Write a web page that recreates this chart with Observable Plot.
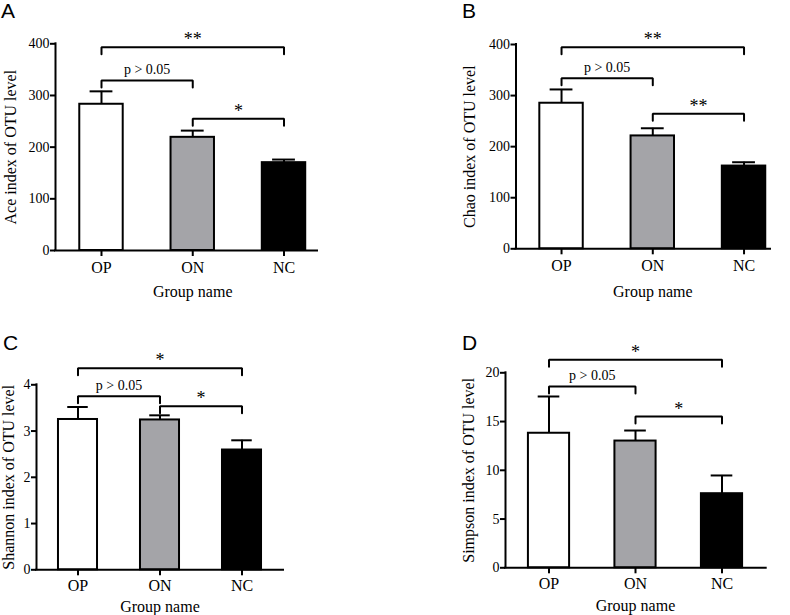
<!DOCTYPE html>
<html><head><meta charset="utf-8">
<script src="https://cdn.jsdelivr.net/npm/d3@7"></script>
<script src="https://cdn.jsdelivr.net/npm/@observablehq/plot@0.6"></script>
<style>
html,body{margin:0;padding:0;background:#fff;}
#root{position:relative;width:790px;height:615px;overflow:hidden;background:#fff;}
.panel{position:absolute;}
.panel text{font-family:"Liberation Serif","Times New Roman",serif;}
.letter{position:absolute;font-family:"Liberation Sans",Arial,sans-serif;font-size:21px;line-height:1;color:#000;}
</style></head><body><div id="root"></div>
<script>
// ---- data ----
const groups = ["OP", "ON", "NC"];
const groupFill = ["#ffffff", "#a4a4a8", "#000000"];
const panelLetters = ["A", "B", "C", "D"];
const yLabels = ["Ace index of OTU level", "Chao index of OTU level", "Shannon index of OTU level", "Simpson index of OTU level"];
const xLabel = "Group name";

const aceMean = [283, 219, 170];
const aceErr = [25, 13, 6];
const chaoMean = [285, 221, 162];
const chaoErr = [27, 15, 7.5];
const shannonMean = [3.25, 3.24, 2.59];
const shannonErr = [0.27, 0.10, 0.21];
const simpsonMean = [13.8, 13.0, 7.6];
const simpsonErr = [3.77, 1.08, 1.87];

const aceTicks = [0, 100, 200, 300, 400];
const chaoTicks = [0, 100, 200, 300, 400];
const shannonTicks = [0, 1, 2, 3, 4];
const simpsonTicks = [0, 5, 10, 15, 20];

const aceBrackets = [
  {from: 0, to: 2, y: 393.4, label: "**"},
  {from: 0, to: 1, y: 329, label: "p > 0.05"},
  {from: 1, to: 2, y: 255, label: "*"}
];
const chaoBrackets = [
  {from: 0, to: 2, y: 394.7, label: "**"},
  {from: 0, to: 1, y: 334, label: "p > 0.05"},
  {from: 1, to: 2, y: 264.3, label: "**"}
];
const shannonBrackets = [
  {from: 0, to: 2, y: 4.36, label: "*"},
  {from: 0, to: 1, y: 3.754, label: "p > 0.05"},
  {from: 1, to: 2, y: 3.537, label: "*"}
];
const simpsonBrackets = [
  {from: 0, to: 2, y: 21.33, label: "*"},
  {from: 0, to: 1, y: 18.6, label: "p > 0.05"},
  {from: 1, to: 2, y: 15.52, label: "*"}
];

// ---- layout / style ----
const barHalf = 0.238;   // half bar width, in category steps
const capHalf = 0.125;   // half error cap width, in category steps
const legPx = 7;         // bracket leg length in px
const serif = '"Liberation Serif","Times New Roman",serif';

const panels = [
  {mean: aceMean, err: aceErr, brackets: aceBrackets, yTicks: aceTicks, yDomain: [0, 400], yLabel: yLabels[0], letter: panelLetters[0],
   left: 0, top: 0, width: 390, height: 305, marginLeft: 55, marginRight: 73, marginTop: 43.3, marginBottom: 55,
   xDomain: [-0.504, 2.367], labelOffset: 51, xTickPadding: 5, xLabelDy: 46.5, letterLeft: 1, letterTop: 0},
  {mean: chaoMean, err: chaoErr, brackets: chaoBrackets, yTicks: chaoTicks, yDomain: [0, 400], yLabel: yLabels[1], letter: panelLetters[1],
   left: 390, top: 0, width: 400, height: 305, marginLeft: 125.5, marginRight: 20, marginTop: 44, marginBottom: 56.7,
   xDomain: [-0.499, 2.290], labelOffset: 52, xTickPadding: 5, xLabelDy: 48, letterLeft: 462, letterTop: 0},
  {mean: shannonMean, err: shannonErr, brackets: shannonBrackets, yTicks: shannonTicks, yDomain: [0, 4], yLabel: yLabels[2], letter: panelLetters[2],
   left: 0, top: 305, width: 390, height: 310, marginLeft: 36, marginRight: 107, marginTop: 79.3, marginBottom: 45.7,
   xDomain: [-0.506, 2.506], labelOffset: 34, xTickPadding: 3.5, xLabelDy: 41.7, letterLeft: 3, letterTop: 332},
  {mean: simpsonMean, err: simpsonErr, brackets: simpsonBrackets, yTicks: simpsonTicks, yDomain: [0, 20], yLabel: yLabels[3], letter: panelLetters[3],
   left: 390, top: 305, width: 400, height: 310, marginLeft: 115, marginRight: 24.3, marginTop: 67.3, marginBottom: 47.7,
   xDomain: [-0.503, 2.511], labelOffset: 43, xTickPadding: 3.5, xLabelDy: 43.4, letterLeft: 462, letterTop: 332}
];

const root = document.getElementById("root");
const isStars = (s) => /^\*+$/.test(s);

for (const p of panels) {
  const rows = groups.map((g, i) => ({i, group: g, mean: p.mean[i], top: p.mean[i] + p.err[i], fill: groupFill[i]}));
  const frameH = p.height - p.marginTop - p.marginBottom;
  const leg = legPx * (p.yDomain[1] - p.yDomain[0]) / frameH;
  const path = p.brackets.flatMap((b, k) => [
    {k, x: b.from, y: b.y - leg}, {k, x: b.from, y: b.y}, {k, x: b.to, y: b.y}, {k, x: b.to, y: b.y - leg}
  ]);
  const stars = p.brackets.filter((b) => isStars(b.label));
  const notes = p.brackets.filter((b) => !isStars(b.label));

  const svg = Plot.plot({
    width: p.width, height: p.height,
    marginLeft: p.marginLeft, marginRight: p.marginRight, marginTop: p.marginTop, marginBottom: p.marginBottom,
    style: {fontFamily: serif, background: "transparent", overflow: "visible", color: "#000"},
    x: {type: "linear", domain: p.xDomain},
    y: {type: "linear", domain: p.yDomain},
    color: {type: "identity"},
    marks: [
      Plot.ruleX(rows, {x: "i", y1: "mean", y2: "top", stroke: "#000", strokeWidth: 2}),
      Plot.ruleY(rows, {y: "top", x1: (d) => d.i - capHalf, x2: (d) => d.i + capHalf, stroke: "#000", strokeWidth: 2}),
      Plot.rect(rows, {x1: (d) => d.i - barHalf, x2: (d) => d.i + barHalf, y1: () => 0, y2: "mean", fill: "fill", stroke: "#000", strokeWidth: 2}),
      Plot.line(path, {x: "x", y: "y", z: "k", stroke: "#000", strokeWidth: 2, strokeLinejoin: "miter", curve: "linear"}),
      Plot.text(stars, {x: (d) => (d.from + d.to) / 2, y: "y", text: "label", lineAnchor: "bottom", dy: -1.8, fontSize: 18, fill: "#000"}),
      Plot.text(notes, {x: (d) => (d.from + d.to) / 2, y: "y", text: "label", lineAnchor: "bottom", dy: -6, fontSize: 14, fill: "#000"}),
      Plot.ruleY([0], {stroke: "#000", strokeWidth: 2, strokeLinecap: "square"}),
      Plot.ruleX([p.xDomain[0]], {stroke: "#000", strokeWidth: 2, strokeLinecap: "square"}),
      Plot.axisY({ticks: p.yTicks, tickFormat: (d) => String(d), tickSize: 5, tickPadding: 1, fontSize: 14, label: null, strokeWidth: 2}),
      Plot.axisY({ticks: [], label: p.yLabel, labelAnchor: "center", labelOffset: p.labelOffset, labelArrow: "none", fontSize: 16}),
      Plot.axisX({ticks: groups.map((g, i) => i), tickFormat: (i) => groups[i], tickSize: 6, tickPadding: p.xTickPadding, fontSize: 16, label: null, strokeWidth: 2}),
      Plot.text([xLabel], {x: () => (groups.length - 1) / 2, y: () => 0, dy: p.xLabelDy, lineAnchor: "bottom", fontSize: 16, fill: "#000"})
    ]
  });
  svg.classList.add("panel");
  svg.style.left = p.left + "px";
  svg.style.top = p.top + "px";
  root.appendChild(svg);

  const L = document.createElement("div");
  L.className = "letter";
  L.textContent = p.letter;
  L.style.left = p.letterLeft + "px";
  L.style.top = p.letterTop + "px";
  root.appendChild(L);
}
</script>
</body></html>
